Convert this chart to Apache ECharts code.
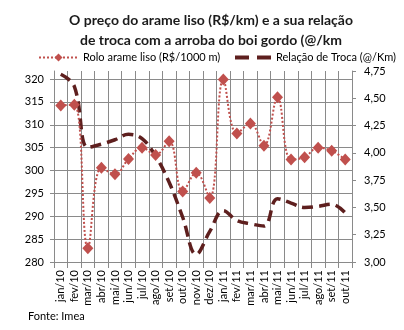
<!DOCTYPE html>
<html>
<head>
<meta charset="utf-8">
<script src="https://cdn.jsdelivr.net/npm/echarts@6/dist/echarts.min.js"></script>
<style>
html,body{margin:0;padding:0;background:#fff;}
#c{width:404px;height:330px;}
</style>
</head>
<body>
<div id="c"></div>
<script>
const categories = ['jan/10','fev/10','mar/10','abr/10','mai/10','jun/10','jul/10','ago/10','set/10','out/10','nov/10','dez/10','jan/11','fev/11','mar/11','abr/11','mai/11','jun/11','jul/11','ago/11','set/11','out/11'];
const roloArame = [314.2, 314.4, 283.0, 300.6, 299.2, 302.5, 305.0, 303.4, 306.4, 295.4, 299.5, 294.0, 319.9, 308.1, 310.3, 305.4, 316.0, 302.4, 302.9, 305.0, 304.3, 302.4];
const relacaoTroca = [4.72, 4.61, 4.05, 4.08, 4.12, 4.17, 4.13, 3.97, 3.73, 3.41, 3.07, 3.28, 3.47, 3.38, 3.35, 3.33, 3.58, 3.54, 3.50, 3.51, 3.53, 3.45];
const titleLines = ['O preço do arame liso (R$/km) e a sua relação', 'de troca com a arroba do boi gordo (@/km'];
const seriesNames = ['Rolo arame liso (R$/1000 m)', 'Relação de Troca (@/Km)'];
const sourceText = 'Fonte: Imea';

const FONT = 'Lato';
const GRID = '#8a8a8a';
const RED = '#C0504D';
const BROWN = '#5E1F1E';

const chart = echarts.init(document.getElementById('c'), null, {renderer: 'canvas'});
chart.setOption({
  animation: false,
  backgroundColor: '#fff',
  title: {
    text: titleLines.join('\n'),
    left: 206, top: 5, textAlign: 'center',
    textStyle: {fontFamily: FONT, fontWeight: 'bold', fontSize: 14, color: '#1a1a1a', lineHeight: 20}
  },
  legend: [
    {data: [seriesNames[0]], left: 33, top: 47, itemWidth: 39, itemHeight: 10, itemGap: 0,
     textStyle: {fontFamily: FONT, fontSize: 11, color: '#000'}},
    {data: [{name: seriesNames[1], icon: 'path://M0,0H14V4H0ZM22,0H36V4H22Z'}], left: 230, top: 47, itemWidth: 36, itemHeight: 4, itemGap: 0,
     textStyle: {fontFamily: FONT, fontSize: 11, color: '#000'}}
  ],
  graphic: [{type: 'text', left: 28, top: 311, style: {text: sourceText, fontFamily: FONT, fontSize: 11, fill: '#000'}}],
  grid: {left: 54, right: 52, top: 71, bottom: 68, containLabel: false},
  xAxis: {
    type: 'category', data: categories, boundaryGap: true,
    axisLine: {show: true, lineStyle: {color: GRID, width: 1}},
    axisTick: {show: true, length: 6, alignWithLabel: false, lineStyle: {color: GRID}},
    splitLine: {show: true, lineStyle: {color: GRID, width: 1}},
    axisLabel: {rotate: 90, interval: 0, margin: 8, fontFamily: FONT, fontSize: 11, color: '#000'}
  },
  yAxis: [
    {type: 'value', min: 280, max: 321.75, interval: 5, position: 'left',
     axisLine: {show: true, lineStyle: {color: GRID}},
     axisTick: {show: true, length: 4, lineStyle: {color: GRID}},
     splitLine: {show: true, showMaxLine: false, lineStyle: {color: GRID, width: 1}},
     axisLabel: {margin: 10, showMaxLabel: false, fontFamily: FONT, fontSize: 11, color: '#000',
       formatter: v => (Math.abs(v % 5) < 1e-6 ? String(v) : '')}},
    {type: 'value', min: 3, max: 4.75, interval: 0.25, position: 'right',
     axisLine: {show: true, lineStyle: {color: GRID}},
     axisTick: {show: true, length: 4, lineStyle: {color: GRID}},
     splitLine: {show: false},
     axisLabel: {margin: 12, fontFamily: FONT, fontSize: 11, color: '#000',
       formatter: v => v.toFixed(2).replace('.', ',')}}
  ],
  series: [
    {name: seriesNames[1], type: 'line', yAxisIndex: 1, data: relacaoTroca,
     smooth: 0.4, symbol: 'none', z: 2,
     lineStyle: {color: BROWN, width: 3.5, type: [11, 6], cap: 'butt'},
     itemStyle: {color: BROWN}},
    {name: seriesNames[0], type: 'line', yAxisIndex: 0, data: roloArame,
     smooth: 0.4, symbol: 'diamond', symbolSize: [11, 12], z: 3,
     lineStyle: {color: RED, width: 2, type: [2, 2]},
     itemStyle: {color: RED}}
  ]
});
</script>
</body>
</html>
